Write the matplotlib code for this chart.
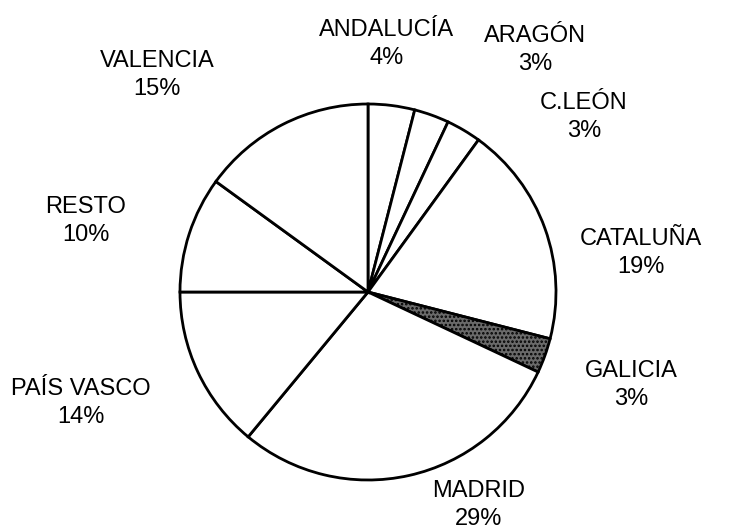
import matplotlib.pyplot as plt

plt.rcParams['font.family'] = ['Liberation Sans', 'DejaVu Sans']
plt.rcParams['hatch.linewidth'] = 1.2

regions = ['ANDALUCÍA', 'ARAGÓN', 'C.LEÓN', 'CATALUÑA', 'GALICIA',
           'MADRID', 'PAÍS VASCO', 'RESTO', 'VALENCIA']
shares = [4, 3, 3, 19, 3, 29, 14, 10, 15]

# label block centres, in pixels from the top-left corner
label_pos = [(387, 44), (535, 50), (584, 117), (641, 253), (631, 385),
             (479, 505), (81, 403), (86, 221), (157, 75)]

W, H = 732, 530
fig = plt.figure(figsize=(W / 100, H / 100), dpi=100)
ax = fig.add_axes([0, 0, 1, 1])

wedges, _ = ax.pie(shares, startangle=90, counterclock=False,
                   center=(368, H - 292), radius=188, frame=True,
                   colors=['white'] * len(shares),
                   wedgeprops=dict(edgecolor='black', linewidth=2.0))
ax.set_xlim(0, W)
ax.set_ylim(0, H)
ax.set_aspect('equal')
ax.axis('off')

# galicia is the only shaded slice
wedges[4].set_facecolor('#6a6a6a')
wedges[4].set_hatch('....')

for name, v, (px, py) in zip(regions, shares, label_pos):
    ax.text(px, H - py, '%s\n%d%%' % (name, v), ha='center', va='center',
            fontsize=17, linespacing=1.3, color='black')

plt.savefig('out.png', dpi=100)
